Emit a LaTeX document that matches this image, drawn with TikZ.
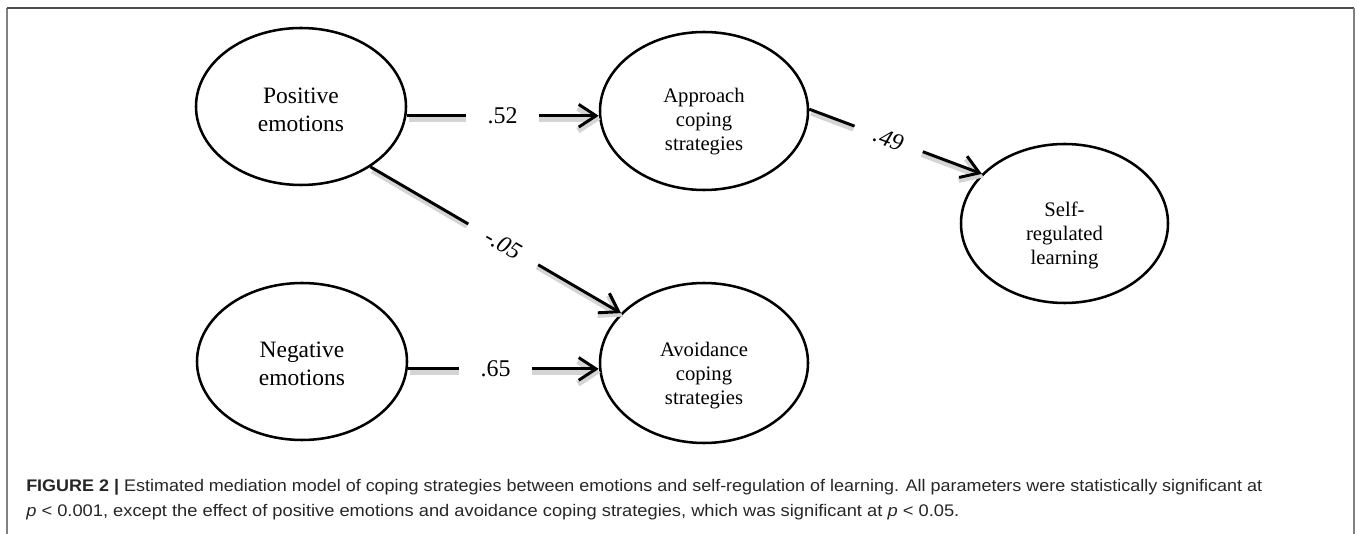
\documentclass[tikz,border=0pt]{standalone}
\usepackage{fontspec}
\setmainfont{Liberation Serif}
\newfontfamily\capfont{Liberation Sans}
\usetikzlibrary{arrows.meta,shapes.geometric}
\newcommand\pxu[1]{#1*0.75pt}
\begin{document}
\begin{tikzpicture}[x=0.75pt,y=-0.75pt,
  el/.style={draw, ellipse, line width=1.9pt, inner sep=0pt},
  bigtxt/.style={font=\fontsize{17.6}{21}\selectfont, align=center},
  smalltxt/.style={font=\fontsize{15.5}{18}\selectfont, align=center},
  conn/.style={line width=2.2pt, -{Straight Barb[length=13pt,width=17pt]},
    preaction={draw=black!17, line width=4.5pt, transform canvas={shift={(2,3.5)}}}},
  wt/.style={fill=white, inner xsep=16pt, inner ysep=1pt, font=\fontsize{18}{20}\selectfont},
  captxt/.style={font=\capfont\fontsize{12.6}{15}\selectfont, text=black!85, inner sep=0pt, anchor=base west},
]
\useasboundingbox (0,0) rectangle (1357,534);
% frame
\draw[line width=1.4pt, black!50] (7,534) -- (7,8);
\draw[line width=1.4pt, black!70] (7,8) -- (1354,8);
\draw[line width=1.4pt, black!50] (1354,8) -- (1354,534);

% ellipses
\node[el, minimum width=\pxu{210}, minimum height=\pxu{157},
  label={[name=posT, bigtxt, yshift=-\pxu{3}]center:{Positive\\emotions}}] (pos) at (301,106.5) {};
\node[el, minimum width=\pxu{210}, minimum height=\pxu{157},
  label={[name=negT, bigtxt, yshift=-\pxu{2}]center:{Negative\\emotions}}] (neg) at (302,361.5) {};
\node[el, minimum width=\pxu{208}, minimum height=\pxu{158},
  label={[name=appT, smalltxt, yshift=-\pxu{11}]center:{Approach\\coping\\strategies}}] (app) at (704,111) {};
\node[el, minimum width=\pxu{208}, minimum height=\pxu{160},
  label={[name=avoT, smalltxt, yshift=-\pxu{13}]center:{Avoidance\\coping\\strategies}}] (avo) at (704,363) {};
\node[el, minimum width=\pxu{207}, minimum height=\pxu{159},
  label={[name=selfT, smalltxt, yshift=-\pxu{12}]center:{Self-\\regulated\\learning}}] (self) at (1064.5,223.5) {};

% connectors
\draw[conn] (pos.-5) -- node[wt, pos=0.5] (l52) {.52} (pos.-5 -| app.west);
\draw[conn] (neg.-4) -- node[wt, pos=0.46] (l65) {.65} (neg.-4 -| avo.west);
\draw[conn] (pos.-41) -- node[wt, pos=0.53, sloped] (l05) {\itshape -.05} (avo.149);
\draw[conn] (app.1) -- node[wt, pos=0.46, sloped] (l49) {\itshape .49} (self.149);

% caption
\node[captxt] (cap1) at (26,492) {\resizebox{927pt}{\height}{\textbf{FIGURE 2 |} Estimated mediation model of coping strategies between emotions and self-regulation of learning. All parameters were statistically significant at}};
\node[captxt] (cap2) at (26,517) {\resizebox{699.75pt}{\height}{\textit{p} < 0.001, except the effect of positive emotions and avoidance coping strategies, which was significant at \textit{p} < 0.05.}};
\end{tikzpicture}
\end{document}
